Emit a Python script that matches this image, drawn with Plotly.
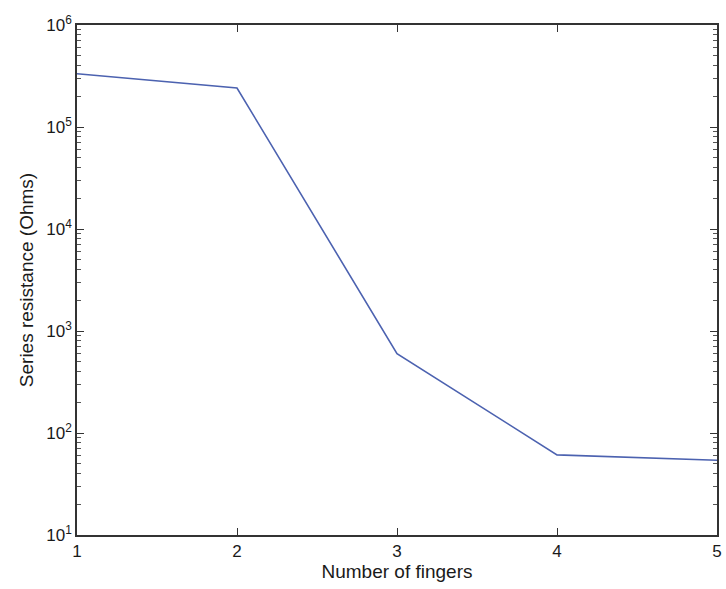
import plotly.graph_objects as go

fingers = [1, 2, 3, 4, 5]
resistance = [3.33e5, 2.41e5, 600, 61, 54]

x_ticks = [1, 2, 3, 4, 5]
y_exponents = [1, 2, 3, 4, 5, 6]
x_title = "Number of fingers"
y_title = "Series resistance (Ohms)"

fig = go.Figure()
fig.add_trace(go.Scatter(
    x=fingers, y=resistance, mode="lines",
    line=dict(color="#4c62b0", width=1.6),
    showlegend=False,
))

font = dict(family="Liberation Sans, Arial, sans-serif", color="#1a1a1a")

fig.update_layout(
    width=726, height=589,
    margin=dict(l=77, r=4, t=25, b=54),
    paper_bgcolor="white", plot_bgcolor="white",
    font=dict(size=17, **font),
)
fig.update_xaxes(
    range=[1, 5], tickvals=x_ticks, ticktext=[str(v) for v in x_ticks],
    ticks="inside", ticklen=7, tickwidth=1, tickcolor="#333",
    showline=True, linecolor="#333", linewidth=1.5, mirror="ticks",
    showgrid=False, zeroline=False,
    tickfont=dict(size=17, **font),
    title=dict(text=x_title, font=dict(size=19, **font), standoff=4),
)
fig.update_yaxes(
    type="log", range=[1, 6],
    tickvals=[10 ** e for e in y_exponents],
    ticktext=[f"10<sup>{e}</sup>" for e in y_exponents],
    ticks="inside", ticklen=7, tickwidth=1, tickcolor="#333",
    minor=dict(ticks="inside", ticklen=4, dtick="D1", tickcolor="#555", showgrid=False),
    showline=True, linecolor="#333", linewidth=1.5, mirror="ticks",
    showgrid=False, zeroline=False,
    tickfont=dict(size=17, **font),
    title=dict(text=y_title, font=dict(size=19, **font), standoff=8),
)

fig.write_html("out.html")
